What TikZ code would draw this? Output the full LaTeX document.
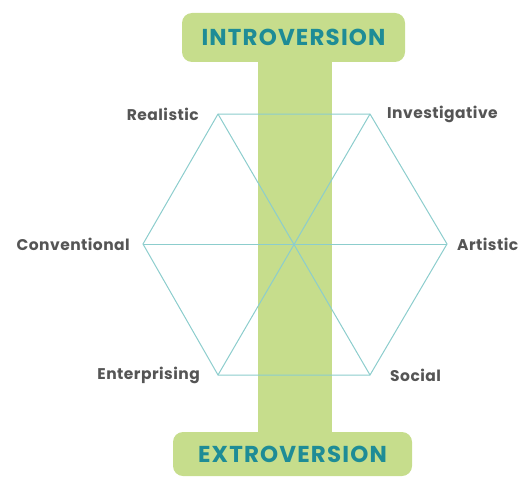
\documentclass[tikz,border=0pt]{standalone}
\usepackage{fontspec}
\setmainfont{Poppins}
\usetikzlibrary{positioning,calc}
\definecolor{leaf}{RGB}{198, 221, 140}
\definecolor{lagoon}{RGB}{30, 140, 150}
\definecolor{seafoam}{RGB}{140, 205, 205}
\definecolor{slate}{RGB}{85, 85, 85}

\tikzset{
  poleBox/.style={fill=leaf, rounded corners=10pt, inner sep=0pt, text=lagoon,
                  font=\bfseries\fontsize{23}{23}\selectfont\addfontfeatures{LetterSpace=5}},
  typeLabel/.style={inner sep=0pt, text=slate,
                    font=\bfseries\fontsize{15.5}{15.5}\selectfont\addfontfeatures{LetterSpace=3}},
  hexLine/.style={seafoam, line width=1pt}
}

\begin{document}
\begin{tikzpicture}[x=1pt, y=-1pt]
            \useasboundingbox (0,0) rectangle (526,476);
            % Poles
            \node[poleBox, minimum width=223pt, minimum height=49pt] (intro) at (293.5, 37.5) {INTROVERSION};
            \node[poleBox, minimum width=239pt, minimum height=44pt] (extro) at (292.5,454.0) {EXTROVERSION};
            % Hexagon corners
            \coordinate (hub) at (294.0,244.0);
            \coordinate (R)   at (218.0,114.0);
            \coordinate (I)   at (370.0,114.0);
            \coordinate (A)   at (447.0,244.0);
            \coordinate (S)   at (370.0,375.0);
            \coordinate (E)   at (218.0,375.0);
            \coordinate (C)   at (143.0,244.0);
            % Axis bar
            \fill[leaf] ($(hub |- intro.south)+(-36,0)$) rectangle ($(hub |- extro.north)+(38,0)$);
            % Hexagon & diagonals
            \draw[hexLine] (R) -- (I) -- (A) -- (S) -- (E) -- (C) -- cycle;
            \draw[hexLine] (R) -- (S);
            \draw[hexLine] (I) -- (E);
            \draw[hexLine] (C) -- (A);
            % Types
            \node[typeLabel, left=19pt of R]  (realistic)     {Realistic};
            \node[typeLabel, right=17pt of I] (investigative) {Investigative};
            \node[typeLabel, right=10pt of A] (artistic)      {Artistic};
            \node[typeLabel, right=20pt of S] (social)        {Social};
            \node[typeLabel, left=18pt of E]  (enterprising)  {Enterprising};
            \node[typeLabel, left=13pt of C]  (conventional)  {Conventional};
\end{tikzpicture}
\end{document}
